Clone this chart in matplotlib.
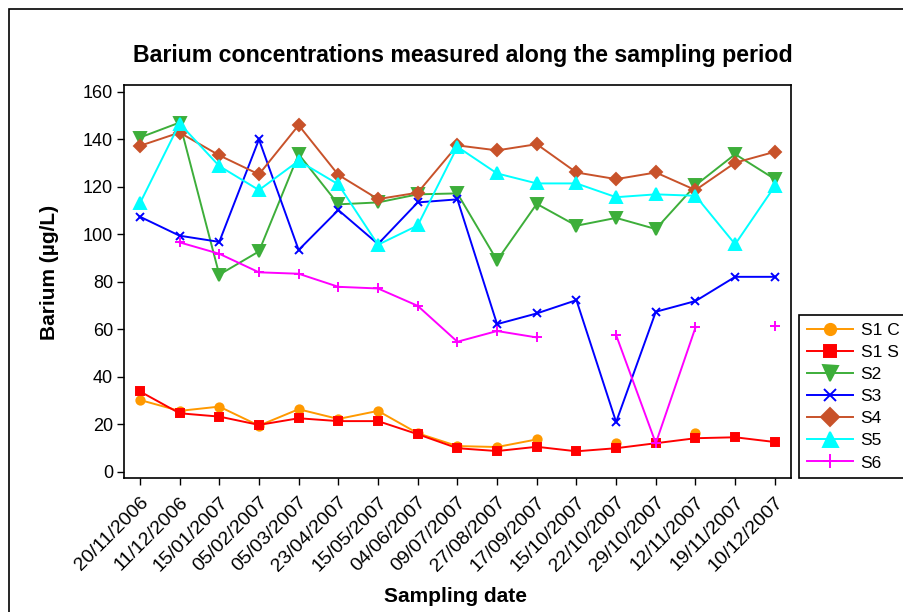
import numpy as np
import matplotlib
matplotlib.use("Agg")
from matplotlib import pyplot as plt
from matplotlib.patches import Rectangle

plt.rcParams['font.family'] = ['Liberation Sans', 'DejaVu Sans']

dates = ['20/11/2006', '11/12/2006', '15/01/2007', '05/02/2007', '05/03/2007',
         '23/04/2007', '15/05/2007', '04/06/2007', '09/07/2007', '27/08/2007',
         '17/09/2007', '15/10/2007', '22/10/2007', '29/10/2007', '12/11/2007',
         '19/11/2007', '10/12/2007']

nan = np.nan
s1c = [30.3, 25.7, 27.5, 19.5, 26.4, 22.3, 25.7, 16.3, 10.9, 10.5, 13.7,
       nan, 12.3, nan, 16.5, nan, nan]
s1s = [33.9, 24.7, 23.3, 19.8, 22.6, 21.4, 21.4, 15.9, 10.0, 8.8, 10.6,
       8.7, 10.0, 12.1, 14.2, 14.6, 12.6]
s2 = [140.7, 147.0, 83.0, 92.8, 133.7, 112.6, 113.4, 116.8, 117.2, 89.0,
      112.8, 103.6, 106.9, 102.2, 120.6, 133.7, 123.2]
s3 = [107.4, 99.4, 96.8, 139.9, 93.4, 110.2, 95.9, 113.4, 114.7, 62.2,
      66.7, 72.3, 21.0, 67.4, 71.9, 82.1, 82.1]
s4 = [137.2, 142.8, 133.2, 125.2, 145.9, 125.0, 114.8, 117.5, 137.4, 135.3,
      137.9, 126.0, 123.2, 126.0, 118.6, 130.1, 134.7]
s5 = [113.0, 146.6, 128.7, 118.6, 130.9, 121.0, 95.6, 103.7, 136.8, 125.6,
      121.4, 121.4, 115.6, 116.8, 116.2, 95.8, 120.3]
s6 = [nan, 96.6, 91.8, 84.0, 83.4, 77.9, 77.2, 69.9, 54.8, 59.3, 56.6,
      nan, 57.6, 12.1, 60.8, nan, 61.4]

names = ['S1 C', 'S1 S', 'S2', 'S3', 'S4', 'S5', 'S6']
colors = ['#FF9900', '#FF0000', '#3DAE3A', '#0000FF', '#C8522A', '#00FFFF', '#FF00FF']
markers = ['o', 's', 'v', 'x', 'D', '^', '+']
msizes = [6, 6, 8, 6, 6.5, 8, 7]

fig = plt.figure(figsize=(9.04, 6.12), dpi=100)
ax = fig.add_axes([0.1372, 0.2185, 0.7375, 0.6426])

x = np.arange(len(dates))
for vals, name, c, m, ms in zip([s1c, s1s, s2, s3, s4, s5, s6], names, colors, markers, msizes):
    ax.plot(x, vals, color=c, marker=m, markersize=ms, markeredgewidth=1.4,
            linewidth=1.4, label=name)

ax.set_xlim(-0.4, 16.4)
ax.set_ylim(-2.65, 162.8)
ax.set_yticks(range(0, 161, 20))
ax.set_xticks(x)
ax.set_xticklabels(dates, rotation=45, ha='right', rotation_mode='anchor')
ax.tick_params(direction='out', length=5, width=1, labelsize=13, pad=3, color='black')
ax.tick_params(axis='x', pad=6, labelsize=14)
for sp in ax.spines.values():
    sp.set_linewidth(1.2)

fig.text(463 / 904, 1 - 62 / 612, 'Barium concentrations measured along the sampling period',
         ha='center', va='baseline', fontsize=16.7, fontweight='bold')
fig.text(456 / 904, 1 - 597 / 612, 'Sampling date', ha='center', va='center',
         fontsize=15, fontweight='bold')
fig.text(50 / 904, 1 - 272 / 612, 'Barium (µg/L)', ha='center', va='center',
         rotation=90, fontsize=15, fontweight='bold')

leg = fig.legend(loc='upper left', bbox_to_anchor=(799 / 904, 1 - 315 / 612),
                 borderaxespad=0, fancybox=False, edgecolor='black', framealpha=1,
                 fontsize=12.5, handlelength=2.65, handletextpad=0.45,
                 labelspacing=0.4, borderpad=0.45, markerscale=1.35)
leg.get_frame().set_linewidth(1.2)

# frame around the whole figure
fig.patches.append(Rectangle((9 / 904, -0.05), 1.2, 1.05 - 9 / 612, fill=False,
                             edgecolor='black', linewidth=1.2,
                             transform=fig.transFigure, figure=fig))

fig.savefig('out.png', dpi=100)
